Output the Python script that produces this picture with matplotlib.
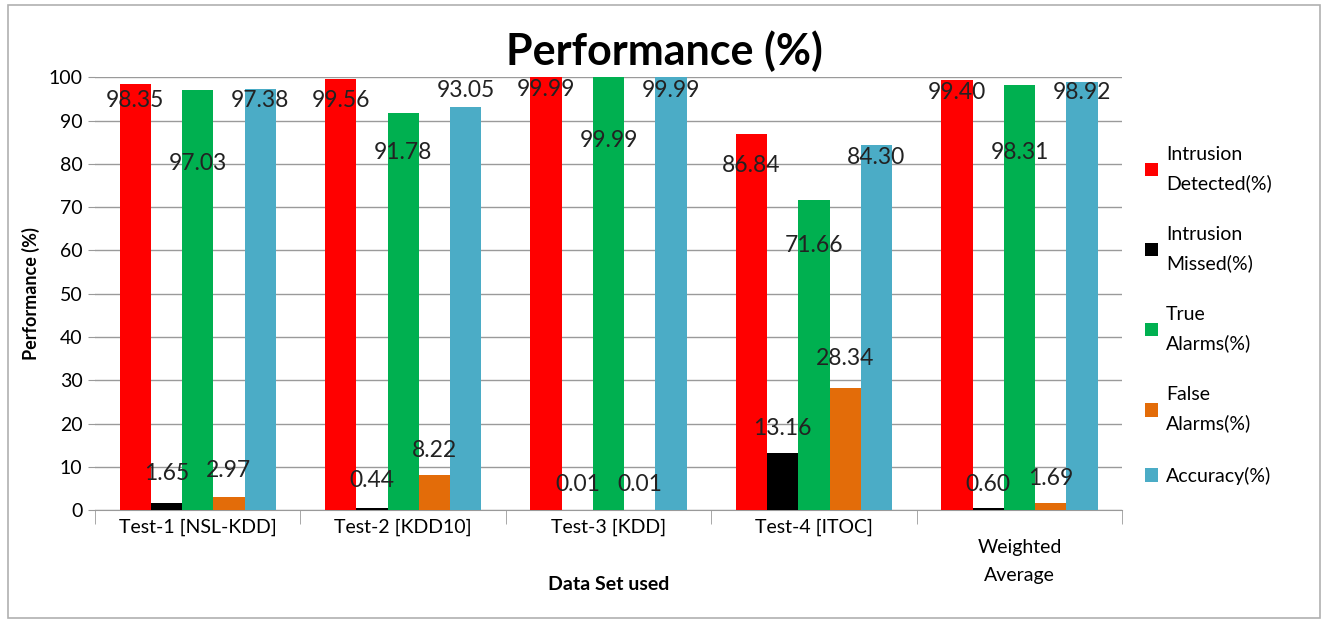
import matplotlib

matplotlib.use("Agg")
import matplotlib.pyplot as plt
import matplotlib.transforms as mtransforms
import numpy as np
from matplotlib.patches import Rectangle

plt.rcParams["font.family"] = ["Lato", "DejaVu Sans"]

categories = ["Test-1 [NSL-KDD]", "Test-2 [KDD10]", "Test-3 [KDD]", "Test-4 [ITOC]", "Weighted\nAverage"]
series_names = [
    "Intrusion\nDetected(%)",
    "Intrusion\nMissed(%)",
    "True\nAlarms(%)",
    "False\nAlarms(%)",
    "Accuracy(%)",
]
detected = [98.35, 99.56, 99.99, 86.84, 99.40]
missed = [1.65, 0.44, 0.01, 13.16, 0.60]
true_alarms = [97.03, 91.78, 99.99, 71.66, 98.31]
false_alarms = [2.97, 8.22, 0.01, 28.34, 1.69]
accuracy = [97.38, 93.05, 99.99, 84.30, 98.92]

# where Excel left the data labels (y, in axis units)
label_y_detected = [94.7, 94.7, 97.2, 79.7, 96.5]
label_y_missed = [8.5, 6.9, 6.0, 18.9, 6.0]
label_y_true = [80.1, 82.7, 85.5, 61.2, 82.7]
label_y_false = [9.2, 13.9, 6.0, 35.1, 7.4]
label_y_acc = [94.7, 97.0, 97.0, 81.5, 96.5]

colors = ["#FF0000", "#000000", "#00B050", "#E36C09", "#4BACC6"]

values = [detected, missed, true_alarms, false_alarms, accuracy]
label_ys = [label_y_detected, label_y_missed, label_y_true, label_y_false, label_y_acc]

fig = plt.figure(figsize=(13.28, 6.23), dpi=100)
ax = fig.add_axes([0.0715, 0.181, 0.7735, 0.695])

x = np.arange(len(categories))
w = 0.152
for i, (vals, ly, c, name) in enumerate(zip(values, label_ys, colors, series_names)):
    xs = x + (i - 2) * w
    ax.bar(xs, vals, width=w, color=c, label=name, zorder=3)
    for xi, v, yy in zip(xs, vals, ly):
        ax.text(xi, yy, f"{v:.2f}", ha="center", va="center", fontsize=16.5, color="#222222", zorder=4)

ax.set_xlim(-0.5, len(categories) - 0.5)
ax.set_ylim(0, 100)
ax.set_yticks(np.arange(0, 101, 10))
ax.yaxis.grid(True, color="#9a9a9a", lw=1, zorder=0)
ax.tick_params(axis="y", labelsize=14, length=5, color="#9a9a9a", pad=4)

ax.set_xticks(x)
ax.set_xticklabels(categories, fontsize=14, linespacing=1.8)
ax.tick_params(axis="x", length=0, pad=6)
ax.set_xticks(np.arange(-0.5, len(categories), 1), minor=True)
ax.tick_params(axis="x", which="minor", length=10, color="#9a9a9a")
# Excel pushed the wrapped label down a bit
last = ax.get_xticklabels()[-1]
last.set_transform(last.get_transform() + mtransforms.ScaledTranslation(0, -0.2, fig.dpi_scale_trans))

for s in ["top", "right", "left"]:
    ax.spines[s].set_visible(False)
ax.spines["bottom"].set_color("#9a9a9a")

ax.set_ylabel("Performance (%)", fontsize=13, fontweight="bold", labelpad=6)
ax.set_xlabel("Data Set used", fontsize=14, fontweight="bold")
ax.xaxis.set_label_coords(0.5, -0.152)
fig.text(0.5, 0.918, "Performance (%)", ha="center", va="center", fontsize=31, fontweight="bold")

leg = ax.legend(
    loc="center left",
    bbox_to_anchor=(1.005, 0.45),
    frameon=False,
    handlelength=0.7,
    handleheight=0.7,
    handletextpad=0.4,
    labelspacing=1.75,
    prop={"size": 14},
)
for t in leg.get_texts():
    t.set_linespacing(1.75)

fig.patches.append(
    Rectangle((0.006, 0.008), 0.988, 0.984, transform=fig.transFigure, fill=False, edgecolor="#b0b0b0", lw=1.2)
)

fig.savefig("out.png", dpi=100)
